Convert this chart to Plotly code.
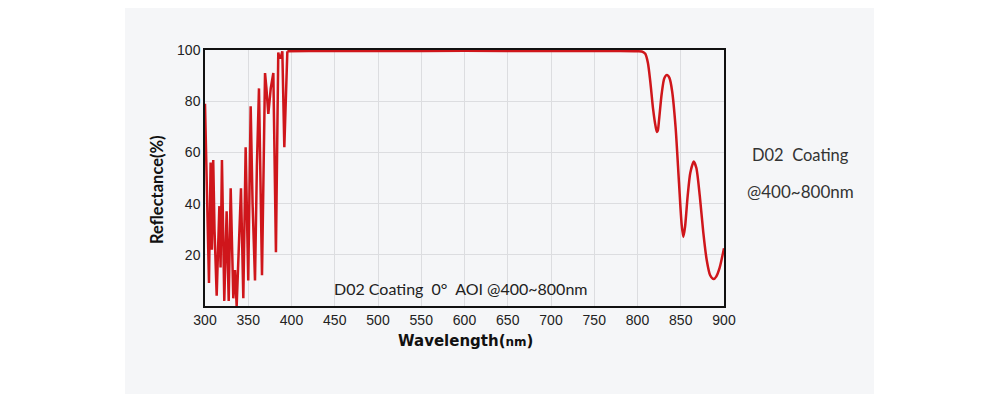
import plotly.graph_objects as go

# Left, rapidly oscillating part (UV region)
wl_uv = [300, 304.6, 306.5, 308, 309.5, 311, 313.5, 316.6, 318, 319.6, 322.3, 325, 327.4,
         329.7, 332.7, 334.7, 336.6, 339, 341.6, 344.3, 347, 350, 352.8, 355, 357.8, 360,
         362.4, 365.9, 367.5, 369.4, 371, 373.2, 376, 379, 382, 384.7, 386, 387.5, 389.4,
         391.7, 395.2]
refl_uv = [79, 9, 56, 22, 57, 30, 4, 39, 15, 57, 2, 37, 2,
           46, 3, 14, 0, 25, 46, 3, 62, 10, 78, 40, 10, 55,
           85, 12, 60, 91, 85, 75, 85, 91, 21, 99, 97, 97, 99.5,
           62, 99.5]

# Flat high-reflection band and the NIR roll-off
wl_vis = [395.2, 420, 500, 600, 700, 780, 800, 805, 809, 812, 815, 818, 821, 822.5, 823.5,
          825, 828, 831, 834, 837, 840, 844, 848, 851, 853, 855, 858, 861, 865, 868, 872,
          876, 880, 884, 888, 891, 895, 900]
refl_vis = [99.5, 99.6, 99.6, 99.7, 99.6, 99.6, 99.5, 99.4, 98.5, 95, 87, 77, 70, 68, 68.5,
            73, 83, 89, 90.2, 89, 84, 70, 48, 32, 27, 31, 43, 52, 56.4, 54, 43,
            29, 18, 12, 10.5, 11.5, 15, 22.6]

x_ticks = [300, 350, 400, 450, 500, 550, 600, 650, 700, 750, 800, 850, 900]
y_ticks = [20, 40, 60, 80, 100]

LINE = "#cf161b"
PANEL = "#f5f6f8"

# page has an 8px body margin -> figure is 992x386, plot area 519x256
W, H = 992, 386
L, T = 197, 42
PW, PH = 519, 256


def px(x):  # reference screenshot x -> paper
    return (x - 8 - L) / PW


def py(y):  # reference screenshot y -> paper
    return 1 - (y - 8 - T) / PH


fig = go.Figure()
fig.add_trace(go.Scatter(x=wl_uv, y=refl_uv, mode="lines",
                         line=dict(color=LINE, width=2.5), showlegend=False))
fig.add_trace(go.Scatter(x=wl_vis, y=refl_vis, mode="lines",
                         line=dict(color=LINE, width=2.5, shape="spline", smoothing=0.7),
                         showlegend=False))

fig.add_shape(type="rect", xref="paper", yref="paper", layer="below",
              x0=px(125), x1=px(874), y0=py(400), y1=py(0),
              fillcolor=PANEL, line=dict(width=0))

fig.add_annotation(x=px(461), y=py(288), xref="paper", yref="paper",
                   xanchor="center", yanchor="middle",
                   text="D02 Coating&nbsp; 0°&nbsp; AOI @400~800nm", showarrow=False,
                   font=dict(family="Lato", size=16, color="#222"))
fig.add_annotation(x=px(800), y=py(155), xref="paper", yref="paper",
                   xanchor="center", yanchor="middle",
                   text="D02&nbsp; Coating", showarrow=False,
                   font=dict(family="Lato", size=16.5, color="#333"))
fig.add_annotation(x=px(800), y=py(191), xref="paper", yref="paper",
                   xanchor="center", yanchor="middle",
                   text="@400~800nm", showarrow=False,
                   font=dict(family="Lato", size=17, color="#333"))
fig.add_annotation(x=px(465), y=py(341), xref="paper", yref="paper",
                   xanchor="center", yanchor="middle",
                   text="<b>Wavelength(<span style='font-size:12px'>nm</span>)</b>",
                   showarrow=False,
                   font=dict(family="DejaVu Sans", size=15, color="#111"))
fig.add_annotation(x=px(157), y=py(190), xref="paper", yref="paper",
                   xanchor="center", yanchor="middle", textangle=-90,
                   text="<b>Reflectance(%)</b>", showarrow=False,
                   font=dict(family="Lato", size=16.5, color="#111"))

fig.update_layout(
    width=W, height=H,
    margin=dict(l=L, r=W - L - PW, t=T, b=H - T - PH, pad=0),
    paper_bgcolor="white", plot_bgcolor=PANEL,
    font=dict(family="Liberation Sans, Arial", color="#222"),
)
fig.update_xaxes(range=[300, 900], tickvals=x_ticks, ticktext=[str(v) for v in x_ticks],
                 showgrid=True, gridcolor="#dcdde0", gridwidth=1,
                 showline=True, linecolor="#111", linewidth=1.5, mirror=True,
                 ticks="", tickfont=dict(size=14, color="#222"), zeroline=False)
fig.update_yaxes(range=[0, 100], tickvals=y_ticks, ticktext=[str(v) for v in y_ticks],
                 showgrid=True, gridcolor="#dcdde0", gridwidth=1,
                 showline=True, linecolor="#111", linewidth=1.5, mirror=True,
                 ticks="", tickfont=dict(size=14, color="#222"), zeroline=False)

fig.write_html("out.html")
